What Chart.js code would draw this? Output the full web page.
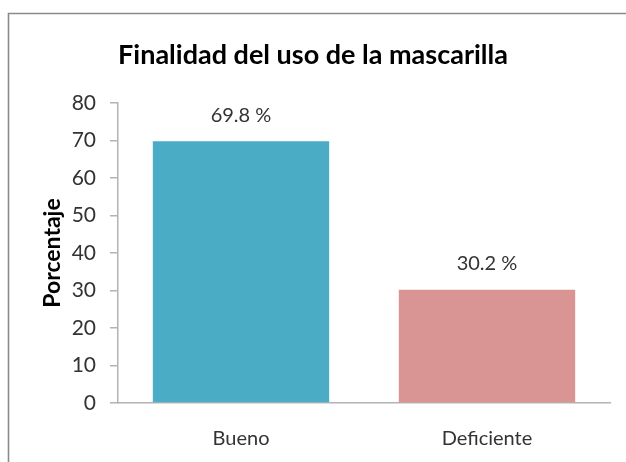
<!DOCTYPE html>
<html>
<head>
<meta charset="utf-8">
<script src="https://cdn.jsdelivr.net/npm/chart.js@4"></script>
<style>
  html, body { margin: 0; padding: 0; background: #fff; overflow: hidden; }
  #wrap { width: 626px; height: 462px; overflow: hidden; }
  canvas { display: block; }
</style>
</head>
<body>
<div id="wrap"><canvas id="c" width="626" height="462"></canvas></div>
<script>
const categories = ["Bueno", "Deficiente"];
const values = [69.8, 30.2];
const yTicks = [0, 10, 20, 30, 40, 50, 60, 70, 80];
const titleText = "Finalidad del uso de la mascarilla";
const yTitle = "Porcentaje";

const FONT = "Lato, 'Open Sans', sans-serif";

const frame = {
  id: 'frame',
  beforeDraw(chart) {
    const ctx = chart.ctx;
    ctx.save();
    ctx.fillStyle = '#ffffff';
    ctx.fillRect(0, 0, 626, 462);
    ctx.strokeStyle = '#8a8a8a';
    ctx.lineWidth = 1.6;
    ctx.beginPath();
    ctx.moveTo(8.5, 470);
    ctx.lineTo(8.5, 13.5);
    ctx.lineTo(640, 13.5);
    ctx.stroke();
    ctx.restore();
  }
};

const barLabels = {
  id: 'barLabels',
  afterDatasetsDraw(chart) {
    const ctx = chart.ctx;
    const meta = chart.getDatasetMeta(0);
    ctx.save();
    ctx.font = "20px " + FONT;
    ctx.fillStyle = '#333333';
    ctx.textAlign = 'center';
    ctx.textBaseline = 'middle';
    meta.data.forEach((bar, i) => {
      const v = chart.data.datasets[0].data[i];
      ctx.fillText(v.toFixed(1) + ' %', bar.x, bar.y - 26);
    });
    ctx.restore();
  }
};

new Chart(document.getElementById('c'), {
  type: 'bar',
  data: {
    labels: categories,
    datasets: [{
      data: values,
      backgroundColor: ['#4bacc6', '#d99594'],
      borderWidth: 0,
      categoryPercentage: 1.0,
      barPercentage: 0.717
    }]
  },
  options: {
    responsive: false,
    animation: false,
    devicePixelRatio: 1,
    layout: { padding: { left: 16, right: 16, top: 0, bottom: 0 } },
    plugins: {
      legend: { display: false },
      tooltip: { enabled: false },
      title: {
        display: true,
        text: titleText,
        color: '#000000',
        font: { family: FONT, size: 27, weight: 'bold', lineHeight: 1.2 },
        padding: { top: 38.8, bottom: 31.8 }
      }
    },
    scales: {
      x: {
        grid: { display: true, drawOnChartArea: false, drawTicks: false },
        border: { display: true, color: '#b3b3b3', width: 1.5 },
        ticks: { color: '#333333', font: { family: FONT, size: 20 }, padding: 24 },
        afterFit(scale) { scale.height = 59; }
      },
      y: {
        min: 0,
        max: 80,
        afterBuildTicks(scale) { scale.ticks = yTicks.map(v => ({ value: v })); },
        grid: { display: true, drawOnChartArea: false, drawTicks: true, tickLength: 8, color: '#b3b3b3', lineWidth: 1.5 },
        border: { display: true, color: '#b3b3b3', width: 1.5 },
        ticks: { color: '#333333', font: { family: FONT, size: 21 }, padding: 14 },
        title: {
          display: true,
          text: yTitle,
          color: '#000000',
          font: { family: FONT, size: 23, weight: 'bold' },
          padding: { top: 23, bottom: 0 }
        },
        afterFit(scale) { scale.width = 102; }
      }
    }
  },
  plugins: [frame, barLabels]
});
</script>
</body>
</html>
